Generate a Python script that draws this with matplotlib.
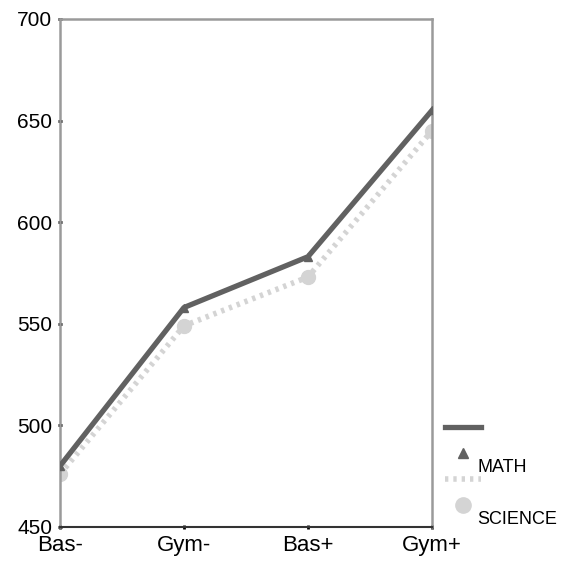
import matplotlib.pyplot as plt
from matplotlib.lines import Line2D

groups = ['Bas-', 'Gym-', 'Bas+', 'Gym+']
math_scores = [480, 558, 583, 655]
science_scores = [476, 549, 573, 645]
yticks = [450, 500, 550, 600, 650, 700]

plt.rcParams['font.family'] = ['Liberation Sans', 'DejaVu Sans']

fig = plt.figure(figsize=(5.69, 5.65), dpi=100)
ax = fig.add_axes([0.1054, 0.0673, 0.6537, 0.8991])

x = range(len(groups))
# science first so math line sits on top
ax.plot(x, science_scores, color='#d4d4d4', lw=4, ls=(0, (0.6, 0.9)),
        marker='o', markersize=10, markerfacecolor='#d4d4d4',
        markeredgecolor='#d4d4d4', zorder=2)
ax.plot(x, math_scores, color='#616161', lw=3.8,
        marker='^', markersize=6, markerfacecolor='#616161',
        markeredgecolor='#616161', zorder=3)

ax.set_xlim(0, 3)
ax.set_ylim(450, 700)
ax.set_xticks(list(x))
ax.set_xticklabels(groups, fontsize=16)
ax.set_yticks(yticks)
ax.set_yticklabels([str(v) for v in yticks], fontsize=15)
ax.tick_params(axis='both', length=3, width=2, direction='inout',
               color='black', pad=4)
ax.tick_params(axis='x', pad=4)

for side in ['left', 'right', 'top']:
    ax.spines[side].set_color('#9a9a9a')
    ax.spines[side].set_linewidth(1.8)
ax.spines['bottom'].set_color('#333333')
ax.spines['bottom'].set_linewidth(1.5)
for s in ax.spines.values():
    s.set_clip_on(False)

handles = [
    Line2D([], [], color='#616161', lw=3.8),
    Line2D([], [], ls='none', marker='^', markersize=7, color='#616161'),
    Line2D([], [], color='#d4d4d4', lw=4, ls=(0, (0.6, 0.9))),
    Line2D([], [], ls='none', marker='o', markersize=11, color='#d4d4d4'),
]
labels = ['', 'MATH', '', 'SCIENCE']
leg = ax.legend(handles, labels, loc='upper left', bbox_to_anchor=(1.0, 0.235),
                frameon=False, fontsize=13, handlelength=2.0,
                labelspacing=0.5, handletextpad=-0.2, borderaxespad=0.3)
# labels sit a little below their markers in the original
for t in leg.get_texts():
    t.set_verticalalignment('top')

fig.savefig('out.png', dpi=100)
